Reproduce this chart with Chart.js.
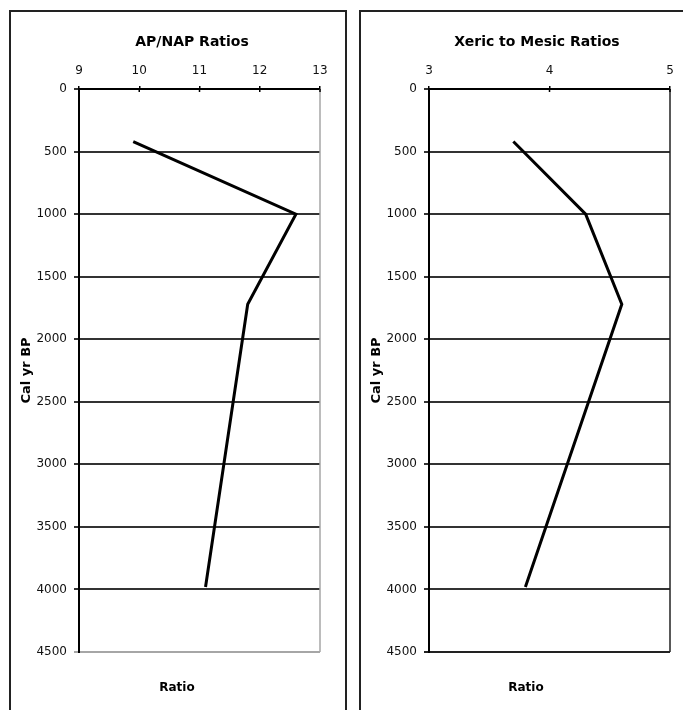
<!DOCTYPE html>
<html>
<head>
<meta charset="utf-8">
<script src="https://cdn.jsdelivr.net/npm/chart.js@4.4.1/dist/chart.umd.min.js"></script>
<style>
  body { margin: 0; background: #fff; width: 683px; height: 710px; overflow: hidden; position: relative; }
  .panel { position: absolute; top: 10px; height: 720px; border: 2px solid #222; box-sizing: border-box; }
  #leftPanel { left: 9px; width: 338px; }
  #rightPanel { left: 359px; width: 338px; }
  canvas { position: absolute; top: 13px; }
  #apChart { left: 12px; }
  #xmChart { left: 362px; }
</style>
</head>
<body>
<div class="panel" id="leftPanel"></div>
<div class="panel" id="rightPanel"></div>
<canvas id="apChart" width="333" height="697"></canvas>
<canvas id="xmChart" width="333" height="697"></canvas>
<script>
// sample ages (cal yr BP) and the two ratio series
const depthBP = [420, 1000, 1720, 3980];
const apNapRatio = [9.9, 12.6, 11.8, 11.1];
const xericMesicRatio = [3.7, 4.3, 4.6, 3.8];

// axis ticks
const ageTicks = [0, 500, 1000, 1500, 2000, 2500, 3000, 3500, 4000, 4500];
const apNapTicks = [9, 10, 11, 12, 13];
const xericMesicTicks = [3, 4, 5];

const FONT = '"DejaVu Sans", Verdana, sans-serif';

// titles, inside tick marks and right edge of the plot area
const panelDecor = {
  id: 'panelDecor',
  afterDraw(chart, args, opts) {
    const { ctx, chartArea: a, scales: { x } } = chart;
    ctx.save();
    ctx.strokeStyle = opts.edgeColor;
    ctx.lineWidth = 1.5;
    ctx.beginPath();
    ctx.moveTo(a.right, a.top);
    ctx.lineTo(a.right, a.bottom);
    ctx.stroke();

    ctx.strokeStyle = '#000';
    x.ticks.forEach(t => {
      const px = x.getPixelForValue(t.value);
      ctx.beginPath();
      ctx.moveTo(px, a.top);
      ctx.lineTo(px, a.top + 3);
      ctx.stroke();
    });

    ctx.fillStyle = '#000';
    ctx.textAlign = 'center';
    ctx.textBaseline = 'middle';
    ctx.font = 'bold 14px ' + FONT;
    ctx.fillText(opts.title, opts.titleX, 29);
    ctx.font = 'bold 12px ' + FONT;
    ctx.fillText('Ratio', opts.footerX, 675);
    ctx.restore();
  }
};

function makeChart(id, values, xTicks, cfg) {
  const points = depthBP.map((d, i) => ({ x: values[i], y: d }));
  return new Chart(document.getElementById(id), {
    type: 'scatter',
    data: {
      datasets: [{
        data: points,
        showLine: true,
        borderColor: '#000',
        borderWidth: 3,
        pointRadius: 0,
        tension: 0
      }]
    },
    options: {
      responsive: false,
      devicePixelRatio: 1,
      animation: false,
      layout: { padding: { left: 4, top: 40, right: 25, bottom: 58 } },
      plugins: {
        legend: { display: false },
        tooltip: { enabled: false },
        panelDecor: { title: cfg.title, titleX: cfg.titleX, footerX: cfg.footerX, edgeColor: cfg.edgeColor }
      },
      scales: {
        x: {
          type: 'linear',
          position: 'top',
          min: xTicks[0],
          max: xTicks[xTicks.length - 1],
          afterFit: s => { s.height = 36; },
          afterBuildTicks: s => { s.ticks = xTicks.map(v => ({ value: v })); },
          ticks: { color: '#111', padding: 8, font: { family: FONT, size: 12 } },
          grid: { drawOnChartArea: false, drawTicks: true, tickLength: 3, color: '#000', lineWidth: 1.5 },
          border: { color: '#000', width: 2 }
        },
        y: {
          type: 'linear',
          reverse: true,
          min: ageTicks[0],
          max: ageTicks[ageTicks.length - 1],
          afterFit: s => { s.width = 63; },
          afterBuildTicks: s => { s.ticks = ageTicks.map(v => ({ value: v })); },
          ticks: { color: '#111', padding: 7, font: { family: FONT, size: 12 }, callback: v => String(v) },
          grid: {
            drawTicks: true,
            tickLength: 5,
            lineWidth: 2,
            color: c => (c.tick && c.tick.value === 4500 ? cfg.edgeColor : '#333')
          },
          border: { color: '#000', width: 2 },
          title: {
            display: true,
            text: 'Cal yr BP',
            color: '#000',
            padding: { top: 3, bottom: 0 },
            font: { family: FONT, size: 13, weight: 'bold' }
          }
        }
      }
    },
    plugins: [panelDecor]
  });
}

makeChart('apChart', apNapRatio, apNapTicks, { title: 'AP/NAP Ratios', titleX: 180, footerX: 165, edgeColor: '#a6a6a6' });
makeChart('xmChart', xericMesicRatio, xericMesicTicks, { title: 'Xeric to Mesic Ratios', titleX: 175, footerX: 164, edgeColor: '#222' });
</script>
</body>
</html>
